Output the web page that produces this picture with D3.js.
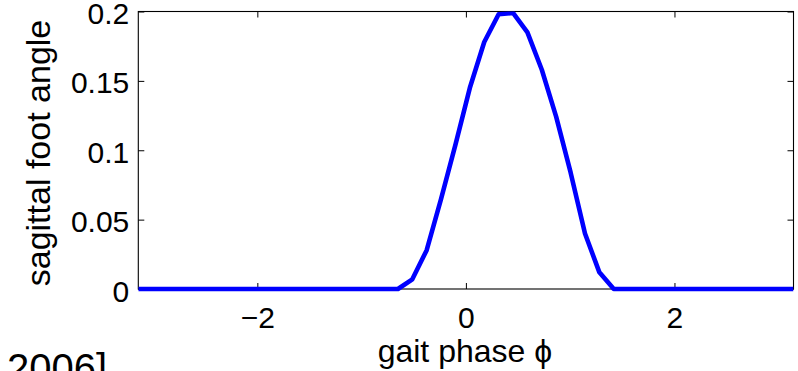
<!DOCTYPE html>
<html>
<head>
<meta charset="utf-8">
<script src="https://cdn.jsdelivr.net/npm/d3@7/dist/d3.min.js"></script>
<style>
  html, body { margin: 0; padding: 0; background: #fff; }
  svg { display: block; }
  text { font-family: "Liberation Sans", Arial, Helvetica, sans-serif; fill: #000; }
</style>
</head>
<body>
<svg id="chart" width="798" height="371"></svg>
<script>
// ---- data ----
const phase = [-3.1416, -0.652, -0.514, -0.376, -0.238, -0.100, 0.038, 0.176, 0.314, 0.452, 0.590, 0.728, 0.866, 1.004, 1.142, 1.280, 1.418, 3.1416];
const footAngle = [0, 0, 0.007, 0.028, 0.065, 0.104, 0.145, 0.178, 0.198, 0.199, 0.185, 0.158, 0.124, 0.084, 0.040, 0.012, 0, 0];
const xTicks = [-2, 0, 2];
const yTicks = [0, 0.05, 0.1, 0.15, 0.2];
const xLabel = "gait phase \u03D5";
const yLabel = "sagittal foot angle";
const citation = "2006]";

// ---- layout ----
const W = 798, H = 371;
const box = { left: 138.3, right: 793.5, top: 11.5, bottom: 289 };

const svg = d3.select("#chart");

const x = d3.scaleLinear().domain([-Math.PI, Math.PI]).range([box.left, box.right]);
const y = d3.scaleLinear().domain([0, 0.2]).range([box.bottom, box.top]);

svg.append("defs").append("clipPath").attr("id", "plotclip")
  .append("rect")
  .attr("x", box.left).attr("y", box.top)
  .attr("width", box.right - box.left).attr("height", box.bottom - box.top + 3);

// axes box
svg.append("rect")
  .attr("x", box.left).attr("y", box.top)
  .attr("width", box.right - box.left).attr("height", box.bottom - box.top)
  .attr("fill", "none").attr("stroke", "#000").attr("stroke-width", 1.1);

const tickLen = 6;
const fmtY = d => d === 0 ? "0" : String(d);
const fmtX = d => d < 0 ? "\u2212" + Math.abs(d) : String(d);

const bottomAxis = d3.axisBottom(x).tickValues(xTicks).tickSizeInner(-tickLen).tickSizeOuter(0)
  .tickPadding(18).tickFormat(fmtX);
const gB = svg.append("g").attr("transform", `translate(0,${box.bottom})`).call(bottomAxis);
const topAxis = d3.axisTop(x).tickValues(xTicks).tickSizeInner(-tickLen).tickSizeOuter(0).tickFormat("");
const gT = svg.append("g").attr("transform", `translate(0,${box.top})`).call(topAxis);
const leftAxis = d3.axisLeft(y).tickValues(yTicks).tickSizeInner(-tickLen).tickSizeOuter(0)
  .tickPadding(9).tickFormat(fmtY);
const gL = svg.append("g").attr("transform", `translate(${box.left},0)`).call(leftAxis);
const rightAxis = d3.axisRight(y).tickValues(yTicks).tickSizeInner(-tickLen).tickSizeOuter(0).tickFormat("");
const gR = svg.append("g").attr("transform", `translate(${box.right},0)`).call(rightAxis);

[gB, gT, gL, gR].forEach(g => {
  g.select(".domain").remove();
  g.selectAll(".tick line").attr("stroke", "#000").attr("stroke-width", 1);
  g.selectAll(".tick text").attr("font-size", 30).attr("font-family", "Liberation Sans, Arial, sans-serif").attr("fill", "#000");
});
gB.selectAll(".tick text").attr("dy", "0.71em");
gL.selectAll(".tick text").attr("dy", "0.4em");

// data line
const line = d3.line().x((d, i) => x(phase[i])).y(d => y(d));
svg.append("path")
  .datum(footAngle)
  .attr("clip-path", "url(#plotclip)")
  .attr("d", line)
  .attr("fill", "none")
  .attr("stroke", "#0000ff")
  .attr("stroke-width", 4.6)
  .attr("stroke-linejoin", "round");

// axis labels
svg.append("text")
  .attr("x", (box.left + box.right) / 2 - 1)
  .attr("y", 362)
  .attr("text-anchor", "middle")
  .attr("font-size", 32)
  .text(xLabel);

svg.append("text")
  .attr("transform", `translate(50,153) rotate(-90)`)
  .attr("text-anchor", "middle")
  .attr("font-size", 34)
  .text(yLabel);

// partially visible citation at bottom-left
svg.append("text")
  .attr("x", 107)
  .attr("y", 382)
  .attr("text-anchor", "end")
  .attr("font-size", 40)
  .text(citation);
</script>
</body>
</html>
